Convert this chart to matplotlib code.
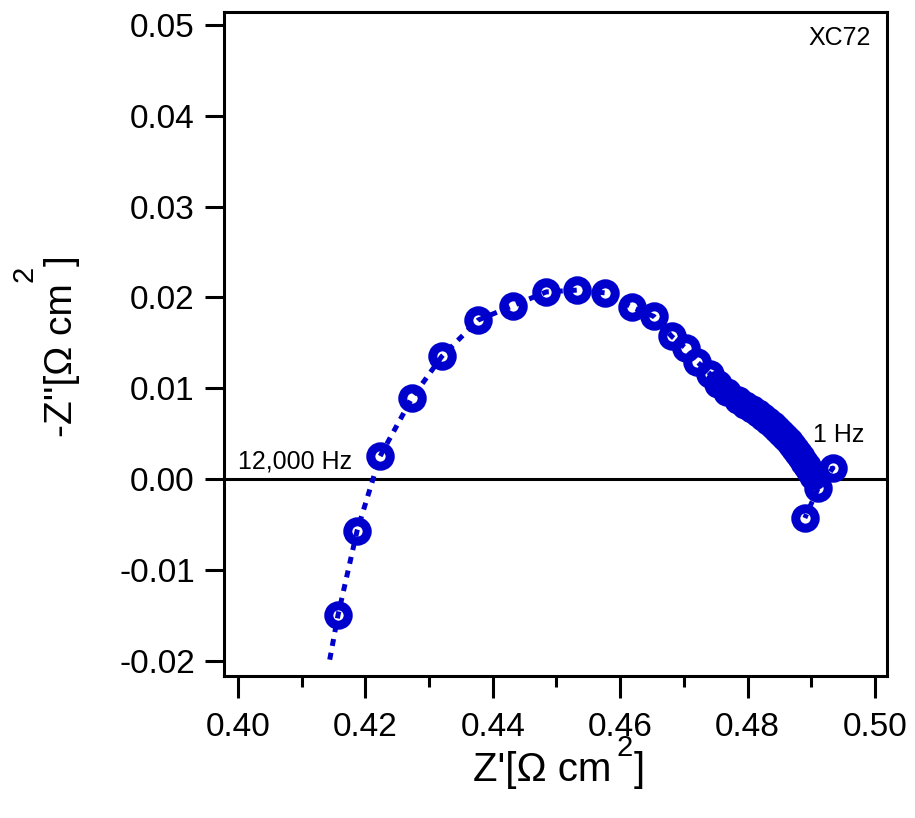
import matplotlib
matplotlib.use("Agg")
import matplotlib.pyplot as plt
from matplotlib.ticker import MultipleLocator, FormatStrFormatter

plt.rcParams['font.family'] = ['Liberation Sans', 'DejaVu Sans']
plt.rcParams['axes.unicode_minus'] = False

# Nyquist data (XC72), high frequency at the left
z_real = [0.4157, 0.4187, 0.4223, 0.4273, 0.4320, 0.4377, 0.4432, 0.4484,
          0.4532, 0.4576, 0.4619, 0.4653, 0.4681, 0.4703, 0.4721, 0.4741,
          0.4754, 0.4768, 0.4785, 0.4796, 0.4807, 0.4816, 0.4824, 0.4832,
          0.4840, 0.4846, 0.4852, 0.4859, 0.4865, 0.4870, 0.4874, 0.4879,
          0.4884, 0.4889, 0.4893, 0.4898, 0.4903, 0.4934, 0.4911, 0.4890]
z_imag = [-0.0150, -0.0057, 0.0025, 0.0089, 0.0135, 0.0175, 0.0191, 0.0206,
          0.0208, 0.0205, 0.0189, 0.0179, 0.0157, 0.0144, 0.0129, 0.0116,
          0.0105, 0.0096, 0.0087, 0.0081, 0.0077, 0.0073, 0.0068, 0.0064,
          0.0059, 0.0055, 0.0051, 0.0046, 0.0042, 0.0037, 0.0033, 0.0029,
          0.0024, 0.0019, 0.0014, 0.0009, 0.0003, 0.0012, -0.0010, -0.0043]

# trace starts a little below the first marker
line_real = [0.4144] + z_real
line_imag = [-0.0199] + z_imag

x_ticks = [0.40, 0.42, 0.44, 0.46, 0.48, 0.50]
y_ticks = [-0.02, -0.01, 0.00, 0.01, 0.02, 0.03, 0.04, 0.05]

W, H = 915, 818
fig = plt.figure(figsize=(W / 100, H / 100), dpi=100)
ax = fig.add_axes([224 / W, 1 - 676 / H, (887 - 224) / W, (676 - 12) / H])

blue = '#0000CC'
ax.axhline(0, color='black', lw=2.2, zorder=1)
ax.plot(line_real, line_imag, color=blue, lw=3.6, linestyle=(0, (1.4, 1.4)),
        dash_capstyle='butt', zorder=2)
ax.plot(z_real, z_imag, linestyle='none', marker='o', markersize=14,
        markerfacecolor='none', markeredgecolor=blue, markeredgewidth=6.5, zorder=3)

ax.set_xlim(0.3978, 0.5019)
ax.set_ylim(-0.0217, 0.05143)
ax.set_xticks(x_ticks)
ax.set_yticks(y_ticks)
ax.xaxis.set_minor_locator(MultipleLocator(0.01))
ax.xaxis.set_major_formatter(FormatStrFormatter('%.2f'))
ax.yaxis.set_major_formatter(FormatStrFormatter('%.2f'))

for s in ax.spines.values():
    s.set_linewidth(2.2)
ax.tick_params(axis='both', which='major', width=2.2, labelsize=24, direction='out')
ax.tick_params(axis='x', which='major', length=16, pad=10)
ax.tick_params(axis='x', which='minor', length=8, width=2.2)
ax.tick_params(axis='y', which='major', length=14, pad=7)

# annotations
ax.text(238 / W, 1 - 468 / H, '12,000 Hz', transform=fig.transFigure,
        fontsize=18, ha='left', va='baseline')
ax.text(813 / W, 1 - 442 / H, '1 Hz', transform=fig.transFigure,
        fontsize=18, ha='left', va='baseline')
ax.text(871 / W, 1 - 45 / H, 'XC72', transform=fig.transFigure,
        fontsize=18, ha='right', va='baseline')

# axis labels with raised superscript
fig.text(473 / W, 1 - 781 / H, "Z'[\u03A9 cm", fontsize=29, ha='left', va='baseline')
fig.text(617 / W, 1 - 756 / H, "2", fontsize=21, ha='left', va='baseline')
fig.text(634 / W, 1 - 781 / H, "]", fontsize=29, ha='left', va='baseline')

fig.text(72 / W, 1 - 437 / H, "-Z''[\u03A9 cm", fontsize=28, rotation=90,
         rotation_mode='anchor', ha='left', va='baseline')
fig.text(33 / W, 1 - 282 / H, "2", fontsize=21, rotation=90,
         rotation_mode='anchor', ha='left', va='baseline')
fig.text(72 / W, 1 - 266 / H, "]", fontsize=28, rotation=90,
         rotation_mode='anchor', ha='left', va='baseline')

fig.savefig('out.png', dpi=100)
